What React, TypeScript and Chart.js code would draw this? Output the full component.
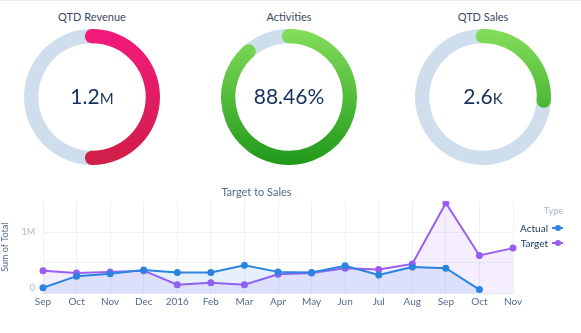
import React, { useEffect, useRef } from "react";
import { Chart, registerables } from "chart.js";
Chart.register(...registerables);

const FONT = "Lato, 'Open Sans', sans-serif";

const gaugeTitles = ["QTD Revenue", "Activities", "QTD Sales"];
const gaugePercents = [50, 88.46, 26];
const gaugeNumbers = ["1.2", "88.46%", "2.6"];
const gaugeUnits = ["M", "", "K"];
const gaugeCenters = [92, 289, 483];
const gaugeColorsTop = ["#f4197d", "#84de5b", "#84de5b"];
const gaugeColorsBottom = ["#cf1f47", "#20991a", "#20991a"];
const TRACK = "#cfdeed";

const months = ["Sep", "Oct", "Nov", "Dec", "2016", "Feb", "Mar", "Apr", "May", "Jun", "Jul", "Aug", "Sep", "Oct", "Nov"];
const actualValues = [90000, 280000, 320000, 380000, 340000, 340000, 460000, 350000, 340000, 450000, 300000, 430000, 410000, 60000, null];
const targetValues = [370000, 330000, 350000, 370000, 140000, 170000, 140000, 310000, 330000, 410000, 390000, 480000, 1480000, 620000, 740000];
const yTickValues = [0, 500000, 1000000];
const yTickLabels = ["0", "", "1M"];
const seriesNames = ["Actual", "Target"];
const seriesColors = ["#2a84e0", "#9b5cf2"];
const seriesFills = ["rgba(60,130,230,0.13)", "rgba(160,100,245,0.11)"];

const capPlugin = {
  id: "caps",
  afterDatasetsDraw(chart: any) {
    const meta = chart.getDatasetMeta(0);
    const arc = meta.data[0];
    if (!arc) return;
    const p = arc.getProps(["x", "y", "startAngle", "endAngle", "innerRadius", "outerRadius"], true);
    const mid = (p.innerRadius + p.outerRadius) / 2;
    const r = (p.outerRadius - p.innerRadius) / 2;
    const ctx = chart.ctx;
    ctx.save();
    ctx.fillStyle = arc.options.backgroundColor;
    for (const a of [p.startAngle, p.endAngle]) {
      ctx.beginPath();
      ctx.arc(p.x + mid * Math.cos(a), p.y + mid * Math.sin(a), r, 0, Math.PI * 2);
      ctx.fill();
    }
    ctx.restore();
  },
};

function Gauge({ i }: { i: number }) {
  const ref = useRef<HTMLCanvasElement>(null);
  useEffect(() => {
    const chart = new Chart(ref.current!, {
      type: "doughnut",
      data: {
        labels: ["value", "rest"],
        datasets: [
          {
            data: [gaugePercents[i], 100 - gaugePercents[i]],
            backgroundColor: (c: any) => {
              if (c.dataIndex !== 0) return TRACK;
              const { ctx, chartArea } = c.chart;
              if (!chartArea) return gaugeColorsTop[i];
              const g = ctx.createLinearGradient(0, chartArea.top, 0, chartArea.bottom);
              g.addColorStop(0, gaugeColorsTop[i]);
              g.addColorStop(1, gaugeColorsBottom[i]);
              return g;
            },
            borderWidth: 0,
          },
        ],
      },
      options: {
        responsive: false,
        animation: false,
        cutout: "79%",
        layout: { padding: 2 },
        events: [],
        plugins: { legend: { display: false }, tooltip: { enabled: false } },
      },
      plugins: [capPlugin],
    });
    return () => chart.destroy();
  }, [i]);
  const cx = gaugeCenters[i];
  return (
    <>
      <div
        style={{
          position: "absolute",
          left: cx - 80,
          width: 160,
          top: 10,
          textAlign: "center",
          fontFamily: FONT,
          fontSize: 11,
          color: "#3e4a5e",
        }}
      >
        {gaugeTitles[i]}
      </div>
      <canvas ref={ref} width={140} height={140} style={{ position: "absolute", left: cx - 70, top: 27, width: 140, height: 140 }} />
      <div
        style={{
          position: "absolute",
          left: cx - 70,
          width: 140,
          top: 83,
          textAlign: "center",
          fontFamily: FONT,
          fontSize: 21,
          lineHeight: "26px",
          color: "#16325c",
        }}
      >
        {gaugeNumbers[i]}
        {gaugeUnits[i] ? <span style={{ fontSize: 15 }}>{gaugeUnits[i]}</span> : null}
      </div>
    </>
  );
}

function LineChart() {
  const ref = useRef<HTMLCanvasElement>(null);
  useEffect(() => {
    const seriesData = [actualValues, targetValues];
    const chart = new Chart(ref.current!, {
      type: "line",
      data: {
        labels: months,
        datasets: seriesNames.map((name, k) => ({
          label: name,
          data: seriesData[k],
          borderColor: seriesColors[k],
          backgroundColor: seriesFills[k],
          pointBackgroundColor: seriesColors[k],
          pointBorderColor: seriesColors[k],
          pointRadius: 2.5,
          borderWidth: 2,
          tension: 0,
          fill: "start",
        })),
      },
      options: {
        responsive: false,
        animation: false,
        events: [],
        layout: { padding: { left: 0, right: 68, top: 0, bottom: 0 } },
        plugins: {
          legend: { display: false },
          tooltip: { enabled: false },
          title: {
            display: true,
            text: "Target to Sales",
            color: "#54698d",
            font: { size: 11, family: FONT, weight: "normal" },
            padding: { top: 5, bottom: 2 },
          },
        },
        scales: {
          x: {
            grid: { color: "#eef2f7", drawTicks: false },
            border: { color: "#e3e8ef" },
            ticks: { color: "#54698d", font: { size: 10, family: FONT }, padding: 3, maxRotation: 0, autoSkip: false },
            afterFit: (s: any) => {
              s.height = 18;
            },
          },
          y: {
            min: 0,
            max: 1510000,
            afterBuildTicks: (s: any) => {
              s.ticks = yTickValues.map((v) => ({ value: v }));
            },
            afterFit: (s: any) => {
              s.width = 43;
            },
            grid: { color: "#eef2f7", drawTicks: false },
            border: { display: false },
            ticks: {
              color: "#a8b7c7",
              font: { size: 9, family: FONT },
              padding: 8,
              callback: (v: any) => {
                const idx = yTickValues.indexOf(Number(v));
                const t = idx >= 0 ? yTickLabels[idx] : "";
                return Number(v) === 0 ? [t, ""] : t;
              },
            },
            title: { display: true, text: "Sum of Total", color: "#54698d", font: { size: 9, family: FONT }, padding: 0 },
          },
        },
      },
    });
    return () => chart.destroy();
  }, []);
  return <canvas ref={ref} width={581} height={131} style={{ position: "absolute", left: 0, top: 181, width: 581, height: 131 }} />;
}

function Legend() {
  return (
    <div style={{ position: "absolute", left: 500, top: 203, width: 63, fontFamily: FONT }}>
      <div style={{ textAlign: "right", fontSize: 9, color: "#a8b7c7", height: 15, lineHeight: "15px" }}>Type</div>
      {seriesNames.map((n, k) => (
        <div key={n} style={{ display: "flex", justifyContent: "flex-end", alignItems: "center", height: 15, marginTop: k === 0 ? 2 : 0 }}>
          <span style={{ fontSize: 10, color: "#16325c", marginRight: 4 }}>{n}</span>
          <span style={{ position: "relative", width: 11, height: 8, display: "inline-block" }}>
            <span style={{ position: "absolute", left: 0, top: 3, width: 11, height: 2, background: seriesColors[k] }} />
            <span style={{ position: "absolute", left: 2.5, top: 1, width: 6, height: 6, borderRadius: 3, background: seriesColors[k] }} />
          </span>
        </div>
      ))}
    </div>
  );
}

export default function App() {
  return (
    <div style={{ position: "absolute", left: 0, top: 0, width: 581, height: 333, background: "#fff", overflow: "hidden" }}>
      <div style={{ position: "absolute", left: 0, top: 0, width: 581, height: 1, background: "#e9eef4" }} />
      {[0, 1, 2].map((i) => (
        <Gauge key={i} i={i} />
      ))}
      <LineChart />
      <Legend />
    </div>
  );
}
